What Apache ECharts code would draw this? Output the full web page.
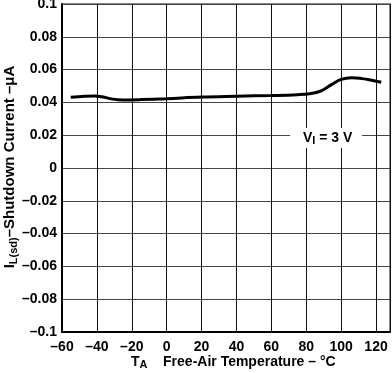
<!DOCTYPE html>
<html><head><meta charset="utf-8">
<script src="https://cdn.jsdelivr.net/npm/echarts@6/dist/echarts.min.js"></script>
<style>html,body{margin:0;padding:0;background:#fff}#c{width:392px;height:373px}</style>
</head><body><div id="c"></div>
<script>
var temps = [-55, -47, -41, -37, -31, -25, -15, 0, 20, 40, 60, 75, 82, 88, 94, 100, 106, 112, 118, 123];
var current = [0.0431, 0.0437, 0.0439, 0.0434, 0.0420, 0.0415, 0.0417, 0.0423, 0.0433, 0.0438, 0.0442, 0.0447, 0.0453, 0.0468, 0.0505, 0.0540, 0.0551, 0.0545, 0.0534, 0.0523];
var xTicks = [-60, -40, -20, 0, 20, 40, 60, 80, 100, 120];
var yTicks = [-0.1, -0.08, -0.06, -0.04, -0.02, 0, 0.02, 0.04, 0.06, 0.08, 0.1];
var FONT = 'Liberation Sans';
var chart = echarts.init(document.getElementById('c'));
function dash(s){ return String(s).replace('-', '\u2013'); }
chart.setOption({
  animation: false,
  grid: { left: 62, right: 2, top: 4, bottom: 41, show: true, borderColor: '#888', borderWidth: 2, containLabel: false, outerBoundsMode: 'none' },
  xAxis: {
    type: 'value', min: -60, max: 128, interval: 20,
    axisLine: { show: true, onZero: false, lineStyle: { color: '#000', width: 2 } },
    axisTick: { show: false },
    splitLine: { show: true, lineStyle: { color: '#111', width: 1 } },
    axisLabel: { margin: 8, color: '#000', fontFamily: FONT, fontWeight: 'bold', fontSize: 14, hideOverlap: false,
      formatter: function(v){ return xTicks.indexOf(v) >= 0 ? dash(v) : ''; } }
  },
  yAxis: {
    type: 'value', min: -0.1, max: 0.1, interval: 0.02,
    axisLine: { show: true, onZero: false, lineStyle: { color: '#000', width: 2 } },
    axisTick: { show: false },
    splitLine: { show: true, lineStyle: { color: '#444', width: 1 } },
    axisLabel: { margin: 5, color: '#000', fontFamily: FONT, fontWeight: 'bold', fontSize: 14,
      formatter: function(v){ var r = Math.round(v*100)/100; return dash(r); } }
  },
  graphic: [
    { type: 'text', x: 10, y: 167, rotation: Math.PI / 2, style: {
      text: '{m|I}{s|L(sd)}{m|\u2013Shutdown Current \u2013\u03bcA}',
      align: 'center', verticalAlign: 'middle',
      rich: {
        m: { fontFamily: FONT, fontWeight: 'bold', fontSize: 15, fill: '#000' },
        s: { fontFamily: FONT, fontWeight: 'bold', fontSize: 11, fill: '#000', padding: [7,0,0,0] }
      } } },
    { type: 'text', left: 131, top: 355, style: {
      text: '{m|T}{s|A}{m|    Free-Air Temperature \u2013 \u00b0C}',
      rich: {
        m: { fontFamily: FONT, fontWeight: 'bold', fontSize: 14, fill: '#000' },
        s: { fontFamily: FONT, fontWeight: 'bold', fontSize: 11, fill: '#000', padding: [6,0,0,0] }
      } } },
    { type: 'rect', left: 290, top: 128, shape: { width: 72, height: 20 }, style: { fill: '#fff' }, z: 50 },
    { type: 'text', left: 303, top: 131, z: 51, style: {
      text: '{m|V}{s|I}{m| = 3 V}',
      rich: {
        m: { fontFamily: FONT, fontWeight: 'bold', fontSize: 14, fill: '#000' },
        s: { fontFamily: FONT, fontWeight: 'bold', fontSize: 11, fill: '#000', padding: [6,0,0,0] }
      } } }
  ],
  series: [{
    type: 'line', data: temps.map(function(t,i){ return [t, current[i]]; }),
    smooth: 0.4, symbol: 'none', lineStyle: { color: '#000', width: 3 }
  }]
});
</script></body></html>
